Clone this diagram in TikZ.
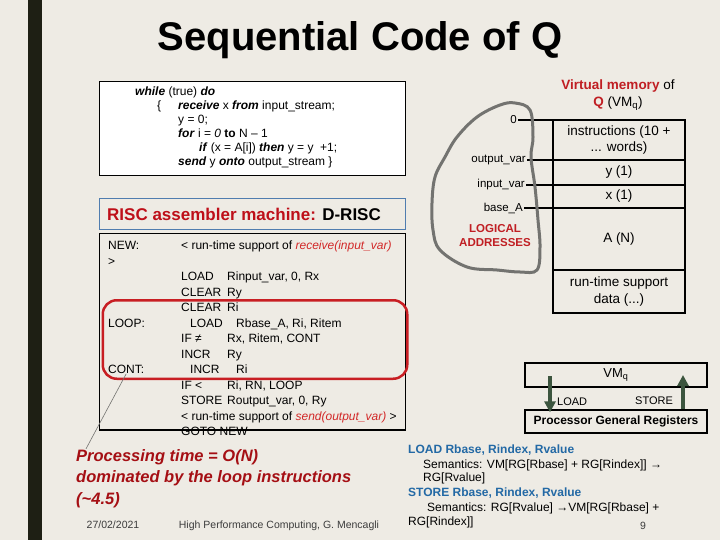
\documentclass[tikz,border=0pt]{standalone}
\usepackage{fontspec}
\setmainfont{Liberation Sans}
\usetikzlibrary{positioning,arrows.meta,calc}
\definecolor{slidebg}{RGB}{238,235,228}
\definecolor{barblack}{RGB}{30,31,20}
\definecolor{headred}{RGB}{190,15,25}
\definecolor{codered}{RGB}{210,40,40}
\definecolor{procred}{RGB}{165,15,20}
\definecolor{memred}{RGB}{192,30,35}
\definecolor{loopred}{RGB}{200,30,35}
\definecolor{semblue}{RGB}{35,105,165}
\definecolor{riscblue}{RGB}{80,125,175}
\definecolor{arrowgreen}{RGB}{60,85,62}
\definecolor{blobgray}{RGB}{115,115,112}
\definecolor{footgray}{RGB}{60,60,60}
\newcommand{\kw}[1]{\textbf{\textit{#1}}}

\begin{document}
\begin{tikzpicture}[x=1pt, y=-1pt, every node/.style={inner sep=0pt}]
  \tikzset{
    codeline/.style={anchor=base west, font=\fontsize{12}{14}\selectfont},
    memcell/.style={draw, line width=2.8pt, minimum width=132pt, align=center, font=\fontsize{13.5}{16.5}\selectfont},
    addr/.style={anchor=east, inner sep=1pt, font=\fontsize{11.5}{13}\selectfont},
    tick/.style={line width=2.2pt},
    regbox/.style={draw, line width=1.2pt, minimum width=182pt},
    memarrow/.style={line width=4pt, draw=arrowgreen, -{Triangle[length=11pt,width=11pt]}},
    semline/.style={anchor=base west, font=\fontsize{12}{14}\selectfont},
    procline/.style={anchor=base west, text=procred, font=\fontsize{16.5}{20}\selectfont\bfseries\itshape}
  }

  % --- slide background ---
  \fill[slidebg] (0,0) rectangle (720,540);
  \useasboundingbox (0,0) rectangle (720,540);
  \fill[barblack] (28,0) rectangle (42,540);
  \node[anchor=base, font=\fontsize{40}{44}\selectfont\bfseries] (title) at (360,51) {Sequential Code of Q};

  % --- source code of Q ---
  \node[draw, fill=white, line width=1.2pt, minimum width=306pt, minimum height=94pt, anchor=north west] (srcbox) at (99,81) {};
  \node[codeline] (src1) at (135,95.5) {\kw{while} (true) \kw{do}};
  \node[codeline] (src2) at (157,109.5) {\makebox[21pt][l]{\{}\kw{receive} x \kw{from} input\_stream;};
  \node[codeline] (src3) at (178,123.5) {y = 0;};
  \node[codeline] (src4) at (178,137.5) {\kw{for} i = \textit{0} \textbf{to} N -- 1};
  \node[codeline] (src5) at (199,151.5) {\kw{if} (x = A[i]) \kw{then} y = y\ \ +1;};
  \node[codeline] (src6) at (178,165.5) {\kw{send} y \kw{onto} output\_stream \}};

  % --- D-RISC compilation ---
  \node[draw=riscblue, line width=1pt, minimum width=306pt, minimum height=31pt, anchor=north west] (riscbox) at (99,198) {};
  \node[anchor=base west, font=\fontsize{17}{20}\selectfont\bfseries] (risctitle) at (107,221) {\textcolor{headred}{RISC assembler machine:} D-RISC};
  \node[draw, line width=1.2pt, minimum width=306pt, minimum height=196pt, anchor=north west] (asmbox) at (99,233) {};
  \node[codeline] (lnew) at (108,249.5) {NEW:};
  \node[codeline] (lgt) at (108,265) {>};
  \node[codeline] (lloop) at (108,327) {LOOP:};
  \node[codeline] (cont) at (108,373.5) {CONT:};
  \node[codeline] (ins0) at (181,249.5) {< run-time support of \textcolor{codered}{\textit{receive(input\_var)}}};
  \foreach \k/\xx/\op/\arg in {2/181/LOAD/{Rinput\_var, 0, Rx}, 3/181/CLEAR/Ry, 4/181/CLEAR/Ri,
      5/190/LOAD/{Rbase\_A, Ri, Ritem}, 6/181/{IF ≠}/{Rx, Ritem, CONT}, 7/181/INCR/Ry,
      8/190/INCR/Ri, 9/181/{IF <}/{Ri, RN, LOOP}, 10/181/STORE/{Routput\_var, 0, Ry}} {
    \node[codeline] (ins\k) at ({\xx},{249.5+\k*15.5}) {\makebox[46pt][l]{\op}\arg};
  }
  \node[codeline] (ins11) at (181,420) {< run-time support of \textcolor{codered}{\textit{send(output\_var)}} >};
  \node[codeline] (ins12) at (181,435.5) {GOTO NEW};
  \draw[line width=1.2pt] (asmbox.south west) -- (asmbox.south east);
  \node[draw=loopred, line width=2.5pt, rounded corners=14pt, minimum width=304.5pt, minimum height=78.5pt, anchor=north west] (loopbox) at (101.5,299) {};

  % --- cost of the loop ---
  \node[procline] (proc1) at (76,461) {Processing time = O(N)};
  \node[procline] (proc2) at (76,482.5) {dominated by the loop instructions};
  \node[procline] (proc3) at (76,504) {(\textasciitilde4.5)};
  \draw[blobgray, line width=0.6pt] (cont.south) -- ([xshift=10pt]proc1.north west);

  % --- virtual memory of Q ---
  \node[align=center, font=\fontsize{13.5}{17}\selectfont] (vmtitle) at (618,95.5) {\textcolor{memred}{\bfseries Virtual memory} of\\\textcolor{memred}{\bfseries Q} (VM\textsubscript{q})};
  \node[memcell, minimum height=40pt] (cinstr) at (619,140) {instructions (10 +\\... words)};
  \node[memcell, minimum height=25pt] (cy) at (619,172.5) {y (1)};
  \node[memcell, minimum height=23pt] (cx) at (619,196.5) {x (1)};
  \node[memcell, minimum height=62pt] (cA) at (619,239) {A (N)};
  \node[memcell, minimum height=43pt] (crts) at (619,291.5) {run-time support\\data (...)};
  \node[addr] (a0) at (518,120) {0};
  \node[addr] (aout) at (527,160) {output\_var};
  \node[addr] (ain) at (526,185) {input\_var};
  \node[addr] (abase) at (524,208) {base\_A};
  \foreach \a in {a0,aout,ain,abase} {
    \draw[tick] (\a.east) -- (\a.east -| cinstr.west);
  }
  \node[align=center, text=memred, font=\fontsize{11.5}{13.5}\selectfont\bfseries] (logaddr) at (495,235.5) {LOGICAL\\ADDRESSES};
  \draw[blobgray, line width=3pt] plot[smooth cycle, tension=0.6] coordinates {(515,103) (530,110) (533,137) (531,157) (535,187) (538,220) (540,247) (537,270) (520,272) (497,270) (467,267) (440,250) (433,230) (432,203) (435,177) (445,157) (457,137) (477,117) (500,105)};

  % --- memory <-> registers ---
  \node[regbox, minimum height=24pt, font=\fontsize{13}{15}\selectfont] (vmq) at (616,375) {VM\textsubscript{q}};
  \node[regbox, minimum height=23pt, font=\fontsize{12}{14}\selectfont\bfseries] (regs) at (616,421.5) {Processor General Registers};
  \coordinate (ldtail) at (550,376);
  \coordinate (sttip) at (683,375);
  \draw[memarrow] (ldtail) -- ($(ldtail |- regs.north)+(0,3)$);
  \draw[memarrow] (sttip |- regs.north) -- (sttip);
  \node[anchor=base west, font=\fontsize{11}{13}\selectfont] (ldlabel) at (557,405) {LOAD};
  \node[anchor=base west, font=\fontsize{11}{13}\selectfont] (stlabel) at (635,404) {STORE};

  % --- semantics ---
  \node[semline, text=semblue, font=\fontsize{12}{14}\selectfont\bfseries] (ldhead) at (408,453.4) {LOAD Rbase, Rindex, Rvalue};
  \node[semline] (ldsem1) at (423,468) {Semantics: VM[RG[Rbase] + RG[Rindex]] →};
  \node[semline] (ldsem2) at (423,481) {RG[Rvalue]};
  \node[semline, text=semblue, font=\fontsize{12}{14}\selectfont\bfseries] (sthead) at (408,496) {STORE Rbase, Rindex, Rvalue};
  \node[semline] (stsem1) at (427,511) {Semantics: RG[Rvalue] →VM[RG[Rbase] +};
  \node[semline] (stsem2) at (408,525) {RG[Rindex]]};

  % --- footer ---
  \node[anchor=base, text=footgray, font=\fontsize{10.5}{12}\selectfont] (fdate) at (113,528) {27/02/2021};
  \node[anchor=base, text=footgray, font=\fontsize{10.5}{12}\selectfont] (fcourse) at (279,528) {High Performance Computing, G. Mencagli};
  \node[anchor=base, text=footgray, font=\fontsize{10.5}{12}\selectfont] (fpage) at (643,529) {9};
\end{tikzpicture}
\end{document}
